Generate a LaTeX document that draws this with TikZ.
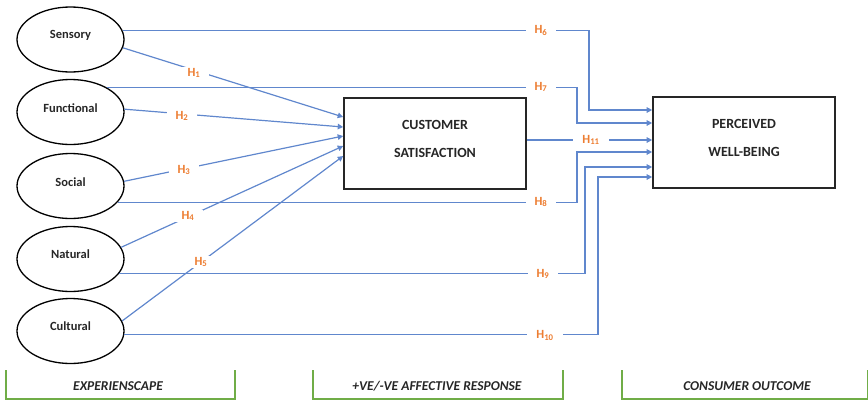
\documentclass[tikz,border=0pt]{standalone}
\usepackage{fontspec}
\setmainfont{Carlito}
\usetikzlibrary{shapes.geometric,arrows.meta,calc}
\definecolor{lnblue}{HTML}{4472C4}
\definecolor{horange}{HTML}{ED7D31}
\definecolor{grn}{HTML}{70AD47}
\definecolor{txt}{HTML}{262626}
\begin{document}
\begin{tikzpicture}[x=1pt,y=-1pt,
 construct/.style={ellipse,draw=black,line width=1.3pt,minimum width=107pt,minimum height=65pt,inner sep=0pt},
 ctext/.style={text=txt,font=\bfseries\fontsize{12.5}{15}\selectfont,inner sep=0pt},
 bigbox/.style={draw=black!85,line width=1.6pt,minimum width=182pt,minimum height=91pt,inner sep=0pt},
 btext/.style={text=txt,align=center,font=\bfseries\fontsize{14}{17}\selectfont,inner sep=0pt},
 conn/.style={draw=lnblue!85,line width=1.2pt},
 arr/.style={conn,-{Triangle[length=5.5pt,width=5.5pt]}},
 hyp/.style={fill=white,text=horange,font=\bfseries\fontsize{12.5}{15}\selectfont,inner sep=1pt,inner xsep=9pt},
 bracket/.style={draw=grn,line width=1.8pt},
 stage/.style={text=txt,font=\bfseries\itshape\fontsize{13.5}{16}\selectfont,inner sep=0pt}]
\useasboundingbox (0,0) rectangle (868,402);

% constructs
\node[construct] (sens) at (70.5,39.5) {};
\node[construct] (func) at (70.5,112) {};
\node[construct] (soc)  at (70.5,186) {};
\node[construct] (nat)  at (70.5,259) {};
\node[construct] (cult) at (70.5,331) {};
\node[ctext] (senst) at (70.5,35) {Sensory};
\node[ctext] (funct) at (70.5,108) {Functional};
\node[ctext] (soct)  at (70.5,182) {Social};
\node[ctext] (natt)  at (70.5,254) {Natural};
\node[ctext] (cultt) at (70.5,326) {Cultural};

% boxes
\node[bigbox] (cs) at (435,143.5) {};
\node[btext] (cst) at (435,139) {CUSTOMER\\[11pt]SATISFACTION};
\node[bigbox] (pw) at (744,142.5) {};
\node[btext] (pwt) at (744,138) {PERCEIVED\\[11pt]WELL-BEING};

% helper coordinates
\coordinate (a1) at (0,117);
\coordinate (a2) at (0,127);
\coordinate (a3) at (0,136);
\coordinate (a4) at (0,146);
\coordinate (a5) at (0,156);
\coordinate (c6) at (589,110);
\coordinate (c7) at (577,123);
\coordinate (c11) at (0,140);
\coordinate (c8) at (577,152);
\coordinate (c9) at (585,167);
\coordinate (c10) at (598,177);

% connectors to customer satisfaction
\draw[arr] (sens.-9) -- (cs.west |- a1);
\draw[arr] (func.3) -- (cs.west |- a2);
\draw[arr] (soc.5) -- (cs.west |- a3);
\draw[arr] (nat.13) -- (cs.west |- a4);
\draw[arr] (cult.11) -- (cs.west |- a5);

% connectors to perceived well-being
\draw[arr] (sens.10) -| (c6) -- (pw.west |- c6);
\draw[arr] (func.34) -| (c7) -- (pw.west |- c7);
\draw[arr] (cs.east |- c11) -- (pw.west |- c11);
\draw[arr] (soc.-19) -| (c8) -- (pw.west |- c8);
\draw[arr] (nat.-17) -| (c9) -- (pw.west |- c9);
\draw[arr] (cult.-4) -| (c10) -- (pw.west |- c10);

% hypothesis labels
\node[hyp] (h1) at (194,73) {H\textsubscript{1}};
\node[hyp] (h2) at (182,116) {H\textsubscript{2}};
\node[hyp] (h3) at (184,170) {H\textsubscript{3}};
\node[hyp] (h4) at (188,216) {H\textsubscript{4}};
\node[hyp] (h5) at (201,262) {H\textsubscript{5}};
\node[hyp] (h6) at (541,30.5) {H\textsubscript{6}};
\node[hyp] (h7) at (541,87) {H\textsubscript{7}};
\node[hyp] (h8) at (541,202) {H\textsubscript{8}};
\node[hyp] (h9) at (543,274) {H\textsubscript{9}};
\node[hyp] (h10) at (545,335.5) {H\textsubscript{10}};
\node[hyp] (h11) at (591,140) {H\textsubscript{11}};

% stage brackets
\draw[bracket] (6,370) -- (6,399) -- (235,399) -- (235,370);
\draw[bracket] (313,370) -- (313,399) -- (563,399) -- (563,370);
\draw[bracket] (622,370) -- (622,399) -- (868,399) -- (868,370);
\node[stage] (st1) at (118,386) {EXPERIENSCAPE};
\node[stage] (st2) at (437,386) {+VE/-VE AFFECTIVE RESPONSE};
\node[stage] (st3) at (747,386) {CONSUMER OUTCOME};
\end{tikzpicture}
\end{document}
